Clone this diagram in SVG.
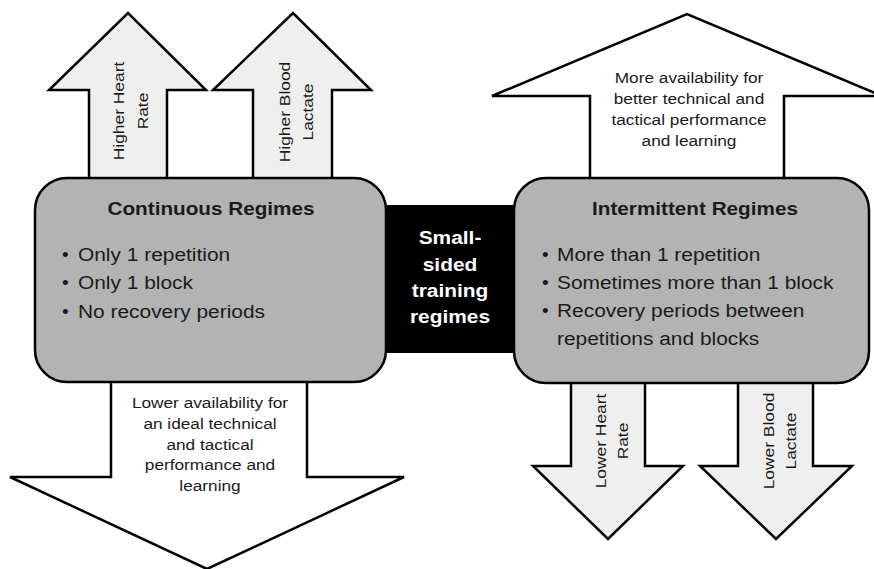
<svg xmlns="http://www.w3.org/2000/svg" width="874" height="569" viewBox="0 0 874 569">
  <style>
    .arrow { stroke: #000; stroke-width: 2.5; stroke-linejoin: miter; }
    .light { fill: #efefef; }
    .white { fill: #ffffff; }
    .box { fill: #b3b3b3; stroke: #000; stroke-width: 2.5; }
    .t { font-family: "Liberation Sans", Arial, sans-serif; fill: #1a1a1a; }
    .a15 { font-size: 15px; text-anchor: middle; }
    .b19 { font-size: 19px; }
    .bold { font-weight: bold; }
    .mid { text-anchor: middle; }
    .wt { fill: #ffffff; }
  </style>
  <rect width="874" height="569" fill="#ffffff"/>

  <g id="connectors">
    <g id="arrow-higher-hr">
      <polygon class="arrow light" points="89,195 89,90 49,90 128,13 206,90 167,90 167,195"/>
    </g>
    <g id="arrow-higher-bl">
      <polygon class="arrow light" points="253,195 253,90 213,90 293,13 371,90 332,90 332,195"/>
    </g>
    <g id="arrow-more-avail">
      <polygon class="arrow white" points="590,195 590,96 492,96 687,14 882,96 784,96 784,195"/>
    </g>
    <g id="arrow-lower-avail">
      <polygon class="arrow white" points="111,365 111,477 10,477 207,569 404,477 307,477 307,365"/>
    </g>
    <g id="arrow-lower-hr">
      <polygon class="arrow light" points="571,365 571,466 533,466 608,539 683,466 645,466 645,365"/>
    </g>
    <g id="arrow-lower-bl">
      <polygon class="arrow light" points="738,365 738,466 700,466 776,539 852,466 813,466 813,365"/>
    </g>
  </g>

  <g id="center-node">
    <rect x="380" y="205" width="140" height="148" fill="#000"/>
    <text class="t b19 bold mid wt" transform="translate(450,244) scale(1.1,1)">Small-</text>
    <text class="t b19 bold mid wt" transform="translate(450,271) scale(1.1,1)">sided</text>
    <text class="t b19 bold mid wt" transform="translate(450,297) scale(1.1,1)">training</text>
    <text class="t b19 bold mid wt" transform="translate(450,323) scale(1.1,1)">regimes</text>
  </g>

  <g id="continuous-node">
    <rect class="box" x="35" y="178" width="351" height="204" rx="32" ry="32"/>
    <text class="t b19 bold mid" transform="translate(211,215) scale(1.09,1)">Continuous  Regimes</text>
    <text class="t b19" x="62" y="261">•</text>
    <text class="t b19" transform="translate(78,261) scale(1.1,1)">Only 1 repetition</text>
    <text class="t b19" x="62" y="289">•</text>
    <text class="t b19" transform="translate(78,289) scale(1.1,1)">Only 1 block</text>
    <text class="t b19" x="62" y="318">•</text>
    <text class="t b19" transform="translate(78,318) scale(1.1,1)">No recovery periods</text>
  </g>

  <g id="intermittent-node">
    <rect class="box" x="514" y="178" width="355" height="205" rx="32" ry="32"/>
    <text class="t b19 bold mid" transform="translate(695,215) scale(1.09,1)">Intermittent Regimes</text>
    <text class="t b19" x="542" y="261">•</text>
    <text class="t b19" transform="translate(557,261) scale(1.1,1)">More than 1 repetition</text>
    <text class="t b19" x="542" y="289">•</text>
    <text class="t b19" transform="translate(557,289) scale(1.1,1)">Sometimes  more than 1 block</text>
    <text class="t b19" x="542" y="317">•</text>
    <text class="t b19" transform="translate(557,317) scale(1.1,1)">Recovery periods between</text>
    <text class="t b19" transform="translate(557,345) scale(1.1,1)">repetitions and blocks</text>
  </g>

  <g id="labels">
    <g transform="translate(124,111) rotate(-90) scale(1.16,1)">
      <text class="t a15" x="0" y="0">Higher Heart</text>
      <text class="t a15" x="0" y="24">Rate</text>
    </g>
    <g transform="translate(290,112) rotate(-90) scale(1.16,1)">
      <text class="t a15" x="0" y="0">Higher Blood</text>
      <text class="t a15" x="0" y="23">Lactate</text>
    </g>
    <g transform="translate(606,441) rotate(-90) scale(1.16,1)">
      <text class="t a15" x="0" y="0">Lower Heart</text>
      <text class="t a15" x="0" y="22">Rate</text>
    </g>
    <g transform="translate(774,441) rotate(-90) scale(1.16,1)">
      <text class="t a15" x="0" y="0">Lower Blood</text>
      <text class="t a15" x="0" y="22">Lactate</text>
    </g>
    <text class="t a15" transform="translate(689,83) scale(1.15,1)">More availability for</text>
    <text class="t a15" transform="translate(689,104) scale(1.15,1)">better technical and</text>
    <text class="t a15" transform="translate(689,125) scale(1.15,1)">tactical performance</text>
    <text class="t a15" transform="translate(689,146) scale(1.15,1)">and learning</text>
    <text class="t a15" transform="translate(210,408) scale(1.15,1)">Lower availability for</text>
    <text class="t a15" transform="translate(210,429) scale(1.15,1)">an ideal technical</text>
    <text class="t a15" transform="translate(210,450) scale(1.15,1)">and tactical</text>
    <text class="t a15" transform="translate(210,470) scale(1.15,1)">performance and</text>
    <text class="t a15" transform="translate(210,491) scale(1.15,1)">learning</text>
  </g>
</svg>
